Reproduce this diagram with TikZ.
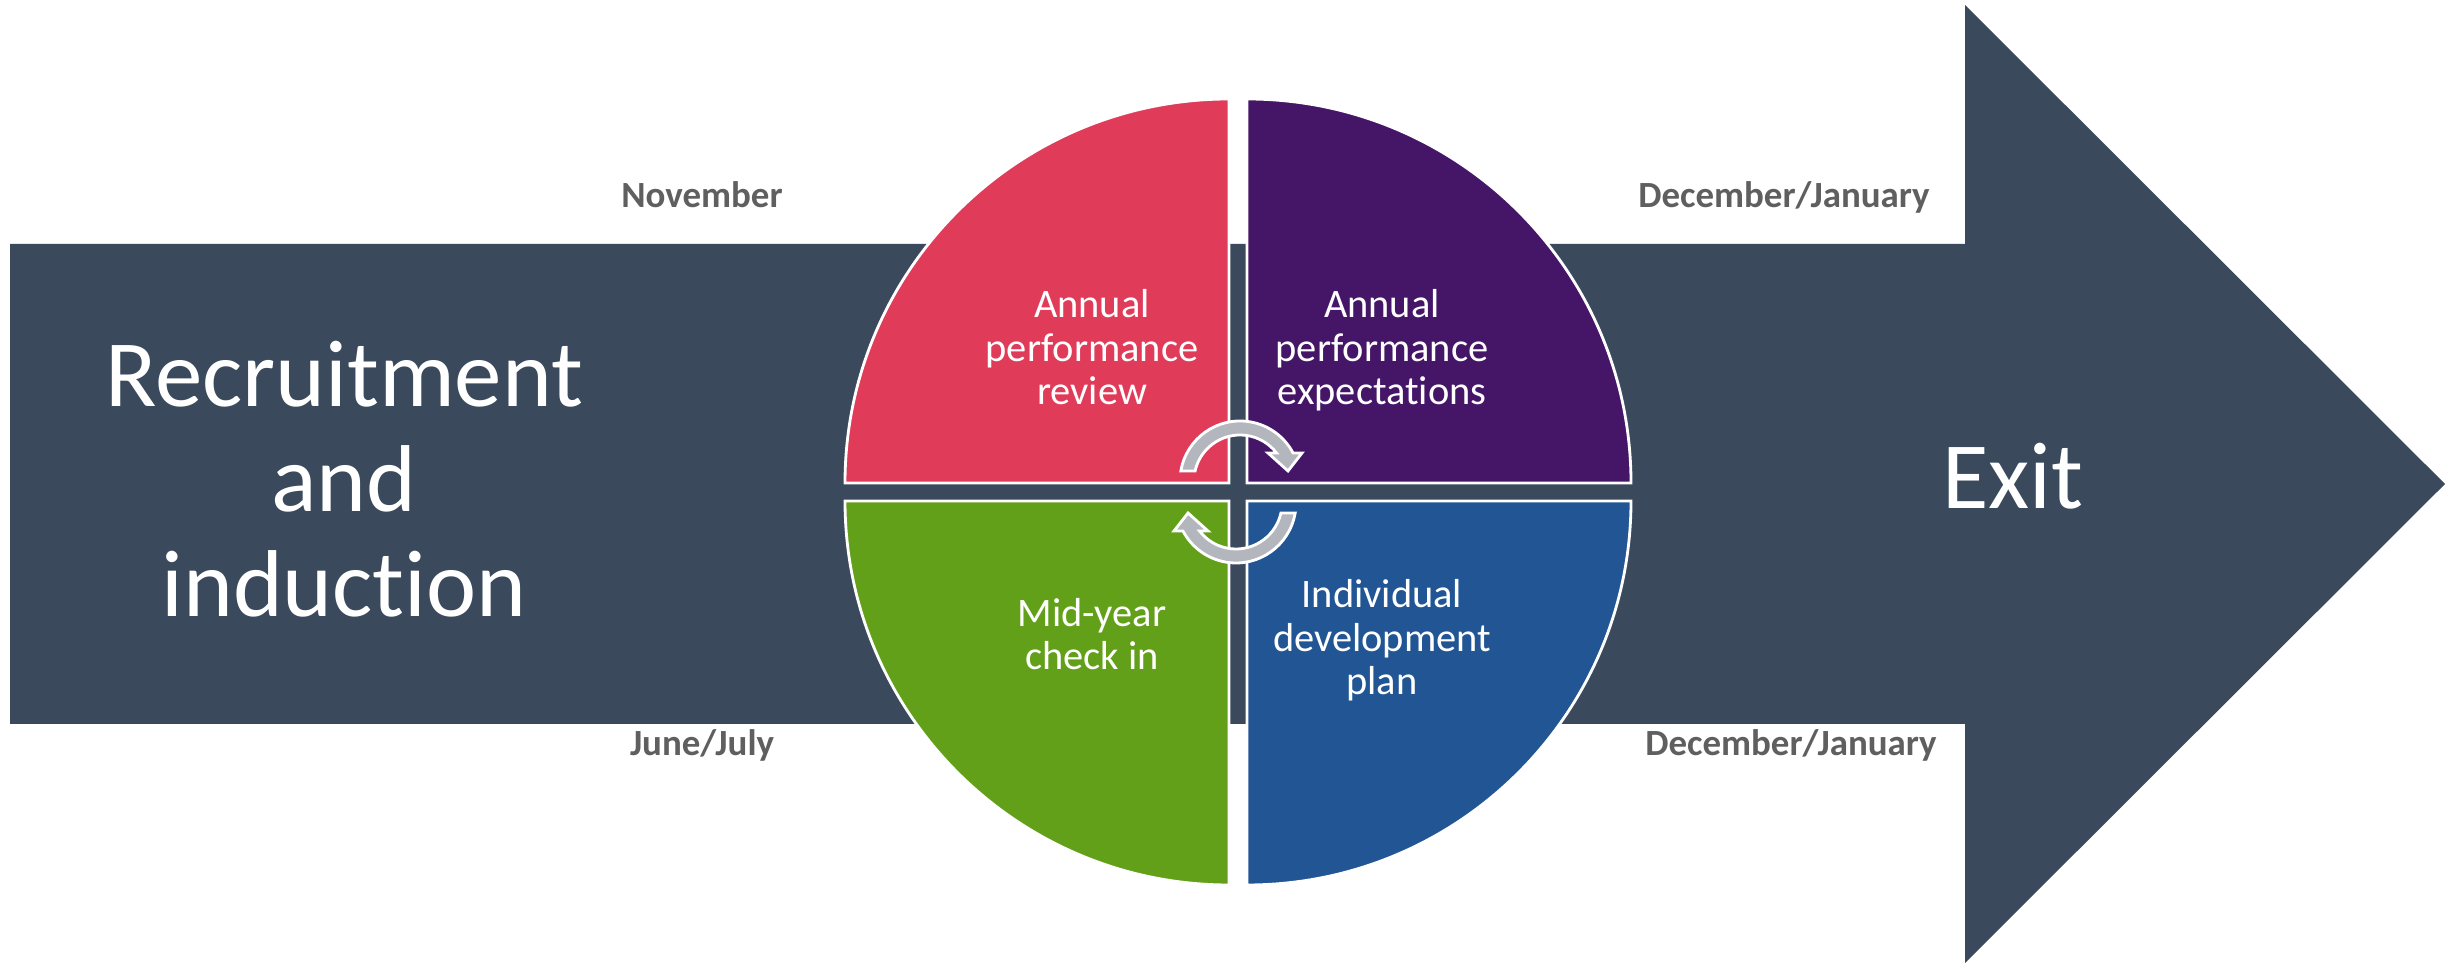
\documentclass[tikz,border=0pt]{standalone}
\usepackage{fontspec}
\setmainfont{Carlito}[Ligatures=NoCommon]
\definecolor{pizarra}{HTML}{3A4A5C}
\definecolor{rojo}{HTML}{E03C5A}
\definecolor{morado}{HTML}{451567}
\definecolor{verde}{HTML}{63A01A}
\definecolor{azul}{HTML}{215594}
\definecolor{grisflecha}{HTML}{B4B6BE}
\definecolor{grismes}{HTML}{5F5F5F}

\begin{document}
\begin{tikzpicture}[x=0.01cm, y=0.01cm,
    cuadrante/.style={draw=white, line width=0.8pt},
    giro/.style={fill=grisflecha, draw=white, line width=0.8pt},
    textocuadro/.style={text=white, align=center, anchor=base, font=\fontsize{11.5}{12.5}\selectfont},
    mes/.style={text=grismes, anchor=base, font=\bfseries\fontsize{10.5}{12}\selectfont},
    grande/.style={text=white, align=center, anchor=base, font=\fontsize{27}{29.9}\selectfont}]
    \useasboundingbox (0,0) rectangle (2448,964);

    % Flecha de fondo (cuerpo y punta)
    \fill[pizarra] (10,240) -- (10,720) -- (1965,720) -- (1965,959) -- (2445,480)
        -- (1965,1) -- (1965,240) -- cycle;

    % Cuadrantes del ciclo
    \filldraw[cuadrante, fill=rojo] (1229,481) -- (1229,865) arc[start angle=90, end angle=180, radius=384] -- cycle;
    \filldraw[cuadrante, fill=morado] (1247,481) -- (1631,481) arc[start angle=0, end angle=90, radius=384] -- cycle;
    \filldraw[cuadrante, fill=verde] (1229,463) -- (845,463) arc[start angle=180, end angle=270, radius=384] -- cycle;
    \filldraw[cuadrante, fill=azul] (1247,463) -- (1247,79) arc[start angle=270, end angle=360, radius=384] -- cycle;

    % Flechas circulares del centro
    \begin{scope}[shift={(1240,483)}]
        \filldraw[giro] (170.4:60) arc[start angle=170.4, end angle=27.8, radius=60]
            -- (62,28) -- (48,10) -- (28,28)
            -- (37.5:46) arc[start angle=37.5, end angle=167.4, radius=46] -- cycle;
    \end{scope}
    \begin{scope}[shift={(1236,461)}]
        \filldraw[giro] (350.4:60) arc[start angle=350.4, end angle=207.8, radius=60]
            -- (-62,-28) -- (-48,-10) -- (-28,-28)
            -- (217.5:46) arc[start angle=217.5, end angle=347.4, radius=46] -- cycle;
    \end{scope}

    % Textos de los extremos (base = ultima linea)
    \node[grande] (ingreso) at (344,347) {Recruitment\\and\\induction};
    \node[grande] (salida) at (2013,455) {Exit};

    % Textos de los cuadrantes
    \node[textocuadro] (revision) at (1092,559) {Annual\\performance\\review};
    \node[textocuadro] (expectativas) at (1382,559) {Annual\\performance\\expectations};
    \node[textocuadro] (seguimiento) at (1092,294) {Mid-year\\check in};
    \node[textocuadro] (desarrollo) at (1382,269) {Individual\\development\\plan};

    % Meses
    \node[mes] (noviembre) at (702,756) {November};
    \node[mes] (diciembrearriba) at (1784,756) {December/January};
    \node[mes] (junio) at (702,208) {June/July};
    \node[mes] (diciembreabajo) at (1791,208) {December/January};
\end{tikzpicture}
\end{document}
